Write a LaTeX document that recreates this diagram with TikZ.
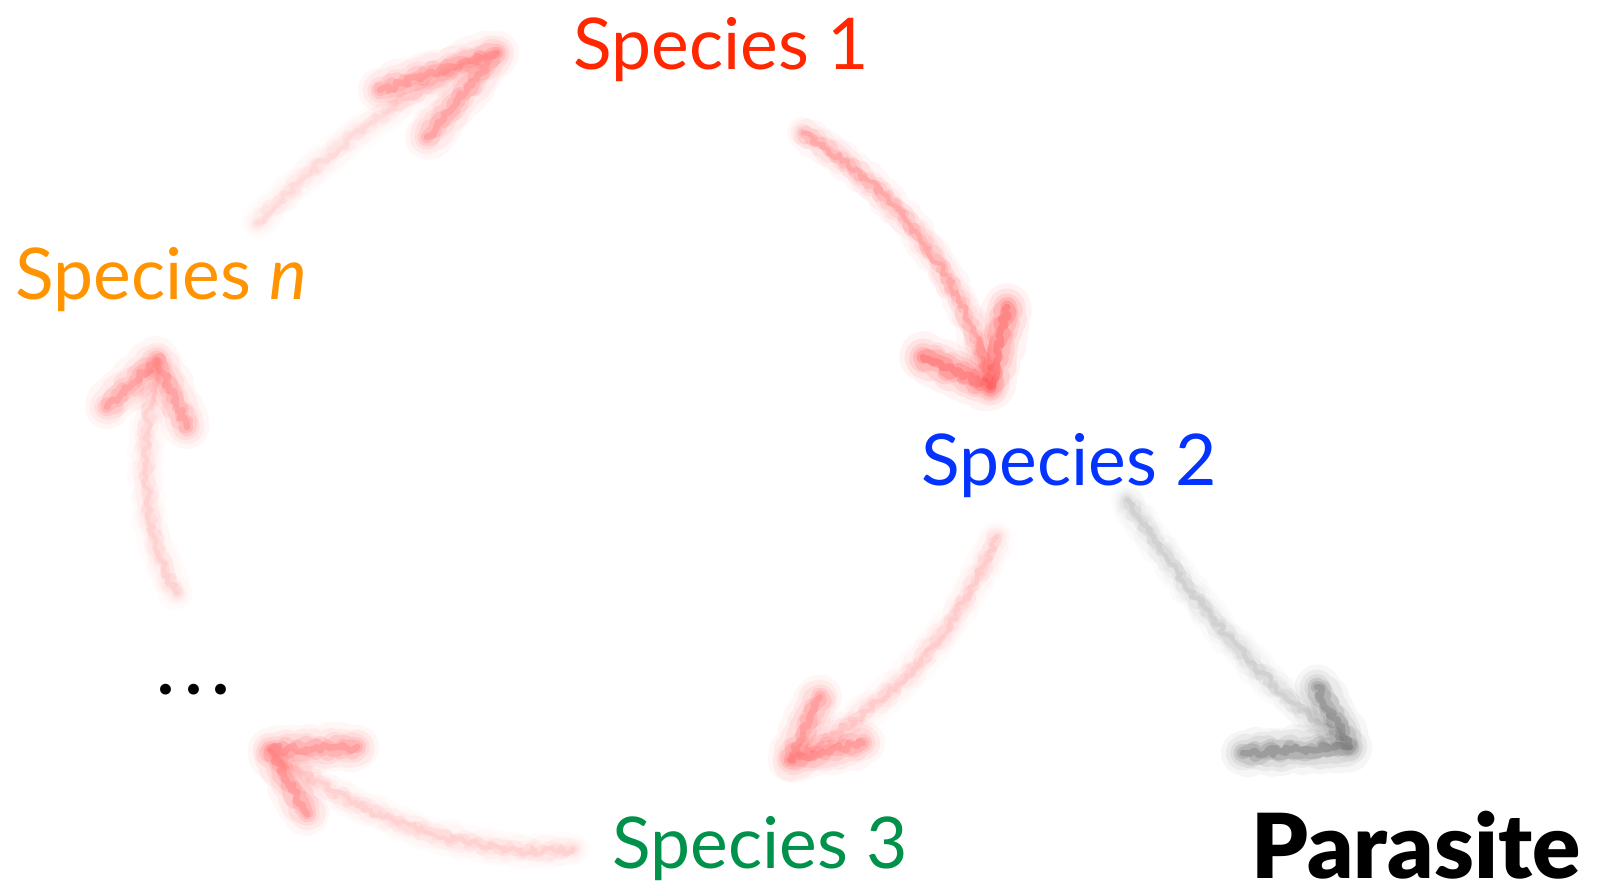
\documentclass[tikz,border=0pt]{standalone}
\usepackage{fontspec}
\setmainfont{Lato}
\newfontfamily\heavyfont{Lato Black}
\usetikzlibrary{decorations.pathmorphing}

\definecolor{sred}{RGB}{255,38,0}
\definecolor{sblue}{RGB}{4,51,255}
\definecolor{sgreen}{RGB}{0,145,75}
\definecolor{sorange}{RGB}{255,147,0}
\definecolor{chalkred}{RGB}{255,45,45}
\definecolor{chalkgrey}{RGB}{40,40,40}

\tikzset{
  species/.style={font=\fontsize{20.3}{25}\selectfont, inner sep=0pt, anchor=base west},
  fz/.style={decorate, decoration={random steps, segment length=1pt, amplitude=1.1pt},
             line cap=round, line join=round},
}

% a soft, grainy stroke built from several translucent jittered layers
% #1 width factor, #2 colour, #3 opacity factor, #4 path
\newcommand\chalkstroke[4][1]{%
  \foreach \w/\o in {9/0.03,7/0.04,5.2/0.05,3.8/0.07,2.5/0.09,1.3/0.11}{%
    \pgfmathsetmacro\op{\o*#3}%
    \pgfmathsetmacro\lw{\w*#1}%
    \draw[fz,#2,line width=\lw pt,draw opacity=\op] #4;
  }}

\begin{document}
\begin{tikzpicture}[x=0.01cm,y=-0.01cm]
  \useasboundingbox (0,0) rectangle (1604,892);

  % labels
  \node[species, text=sred]    (s1)   at (573,70)  {Species 1};
  \node[species, text=sblue]   (s2)   at (921,486) {Species 2};
  \node[species, text=sgreen]  (s3)   at (612,868) {Species 3};
  \node[species, text=sorange] (sn)   at (15,300)  {Species \textit{n}};
  \node[species]               (dots) at (157,694) {\bfseries .\kern3pt.\kern3pt.};
  \node[inner sep=0pt, anchor=base west, text depth=0pt,
        font=\heavyfont\fontsize{25.5}{30}\selectfont] (par) at (1251,878) {Parasite};

  % arrow end points
  \coordinate (a1s) at (803,133);  \coordinate (a1t) at (990,387);
  \coordinate (a1l) at (1007,307); \coordinate (a1r) at (923,357);
  \coordinate (a2s) at (997,537);  \coordinate (a2t) at (790,760);
  \coordinate (a2l) at (820,697);  \coordinate (a2r) at (863,743);
  \coordinate (a3s) at (573,849);  \coordinate (a3t) at (270,750);
  \coordinate (a3l) at (357,747);  \coordinate (a3r) at (307,813);
  \coordinate (a4s) at (177,593);  \coordinate (a4t) at (157,360);
  \coordinate (a4l) at (107,407);  \coordinate (a4r) at (187,427);
  \coordinate (a5s) at (257,223);  \coordinate (a5t) at (497,53);
  \coordinate (a5l) at (380,90);   \coordinate (a5r) at (427,137);
  \coordinate (a6s) at (1127,500); \coordinate (a6t) at (1350,747);
  \coordinate (a6l) at (1317,687); \coordinate (a6r) at (1243,753);

  % Species 1 -> Species 2
  \chalkstroke{chalkred}{1.3}{(a1s) .. controls (880,180) and (960,260) .. (a1t)}
  \chalkstroke[1.5]{chalkred}{2.0}{(a1l) -- (a1t) -- (a1r)}
  % Species 2 -> Species 3
  \chalkstroke{chalkred}{0.7}{(a2s) .. controls (950,640) and (900,700) .. (a2t)}
  \chalkstroke[1.4]{chalkred}{1.5}{(a2l) -- (a2t) -- (a2r)}
  % Species 3 -> ...
  \chalkstroke{chalkred}{0.6}{(a3s) .. controls (480,860) and (360,820) .. (a3t)}
  \chalkstroke[1.4]{chalkred}{1.5}{(a3l) -- (a3t) -- (a3r)}
  % ... -> Species n
  \chalkstroke{chalkred}{0.6}{(a4s) .. controls (140,530) and (140,450) .. (a4t)}
  \chalkstroke[1.4]{chalkred}{1.4}{(a4l) -- (a4t) -- (a4r)}
  % Species n -> Species 1
  \chalkstroke{chalkred}{0.5}{(a5s) .. controls (320,160) and (400,90) .. (a5t)}
  \chalkstroke[1.4]{chalkred}{1.4}{(a5l) -- (a5t) -- (a5r)}
  % Species 2 -> Parasite
  \chalkstroke{chalkgrey}{0.6}{(a6s) .. controls (1180,580) and (1250,680) .. (a6t)}
  \chalkstroke[1.4]{chalkgrey}{1.5}{(a6l) -- (a6t) -- (a6r)}
\end{tikzpicture}
\end{document}
